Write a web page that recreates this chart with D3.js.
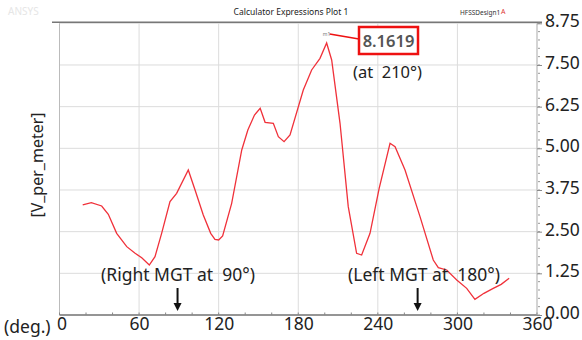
<!DOCTYPE html>
<html><head><meta charset="utf-8">
<script src="https://cdn.jsdelivr.net/npm/d3@7"></script>
<style>body{margin:0;background:#fff}svg{display:block}text{font-family:"Noto Sans","Open Sans",sans-serif}</style>
</head><body><svg id="c" width="582" height="340"></svg>
<script>
const degrees = [17.5,24,31.8,36.8,43.1,50.7,57,62,67.7,72,77,83.3,88.3,97.1,102.2,108.4,114,117.2,120,123,129.8,137.4,142,147,151.3,155,161.2,165,169.3,173.8,183.8,190.1,196.4,201.4,205.2,211.5,217.7,224,227.8,234.1,241,249.2,253,260.5,271.8,281.8,285.6,291.9,299.5,307,313.2,320,327,333,339];
const values = [3.30,3.37,3.27,3.02,2.45,2.05,1.85,1.72,1.50,1.75,2.45,3.40,3.65,4.35,3.75,3.0,2.45,2.27,2.25,2.37,3.35,4.95,5.55,6.0,6.2,5.78,5.75,5.35,5.2,5.4,6.75,7.35,7.7,8.16,7.65,5.75,3.25,1.85,1.8,2.45,3.8,5.15,5.05,4.35,2.95,1.65,1.42,1.35,1.05,0.8,0.47,0.65,0.8,0.92,1.1];
const xTicks = [0,60,120,180,240,300,360];
const yTicks = [0,1.25,2.5,3.75,5,6.25,7.5,8.75];
const peakDeg = 201.4, peakVal = 8.1619;

const svg = d3.select("#c");
const L=59.5, R=537, T=23.3, B=315;
const x = d3.scaleLinear().domain([0,360]).range([L,R]);
const y = d3.scaleLinear().domain([0,8.75]).range([B,T]);

// faded header
svg.append("text").attr("x",8).attr("y",15).attr("font-size",10).attr("fill","#e6e6e6").text("ANSYS");
svg.append("text").attr("x",291).attr("y",15).attr("text-anchor","middle").attr("font-size",8.5).attr("fill","#222").attr("font-family","Arial, Liberation Sans").text("Calculator Expressions Plot 1");
svg.append("text").attr("x",460).attr("y",15).attr("font-size",6.5).attr("fill","#333").attr("font-family","Arial, Liberation Sans").text("HFSSDesign1");
svg.append("text").attr("x",501).attr("y",14).attr("font-size",7).attr("fill","#d33").attr("font-family","Arial, Liberation Sans").text("A");

// grid
const g = svg.append("g");
g.selectAll(".hg").data(yTicks).join("line").attr("x1",L).attr("x2",R).attr("y1",d=>y(d)).attr("y2",d=>y(d)).attr("stroke","#dcdcdc").attr("stroke-width",1);
g.selectAll(".vg").data(xTicks).join("line").attr("y1",T).attr("y2",B).attr("x1",d=>x(d)).attr("x2",d=>x(d)).attr("stroke","#dcdcdc").attr("stroke-width",1);

// borders
svg.append("line").attr("x1",L).attr("x2",R).attr("y1",B).attr("y2",B).attr("stroke","#777").attr("stroke-width",1.5);
svg.append("line").attr("x1",52).attr("x2",542).attr("y1",T-1).attr("y2",T-1).attr("stroke","#777").attr("stroke-width",1.5);
svg.append("line").attr("x1",L).attr("x2",L).attr("y1",T).attr("y2",B).attr("stroke","#bbb");
svg.append("line").attr("x1",R).attr("x2",R).attr("y1",T).attr("y2",B).attr("stroke","#bbb");

// minor ticks
const yMinor = d3.range(0,8.751,0.25);
svg.selectAll(".ym").data(yMinor).join("line").attr("x1",R+1).attr("x2",R+3).attr("y1",d=>y(d)).attr("y2",d=>y(d)).attr("stroke","#999");
const xMinor = d3.range(0,361,20);
svg.selectAll(".xm").data(xMinor).join("line").attr("x1",d=>x(d)).attr("x2",d=>x(d)).attr("y1",B-2.5).attr("y2",B).attr("stroke","#888");

// axes labels via d3 axes
const yAxis = d3.axisRight(y).tickValues(yTicks).tickFormat(d3.format(".2f")).tickSize(5).tickPadding(3);
const ya = svg.append("g").attr("transform",`translate(${R},0)`).call(yAxis);
ya.select(".domain").remove();
ya.selectAll("line").attr("stroke","#888");
ya.selectAll("text").attr("font-size",17.5).attr("fill","#222").attr("dy","0.2em").attr("font-family","Noto Sans, sans-serif");

const xAxis = d3.axisBottom(x).tickValues(xTicks).tickFormat(d3.format("d")).tickSize(0).tickPadding(3);
const xa = svg.append("g").attr("transform",`translate(0,${B})`).call(xAxis);
xa.select(".domain").remove();
xa.selectAll("text").attr("font-size",17.5).attr("fill","#222").attr("font-family","Noto Sans, sans-serif");
xa.selectAll(".tick").filter(d=>d===0).select("text").attr("dx",2);

svg.append("text").attr("x",4).attr("y",333).attr("font-size",17.5).attr("fill","#222").text("(deg.)");
svg.append("text").attr("transform","translate(43,165) rotate(-90)").attr("text-anchor","middle").attr("font-size",16).attr("fill","#222").text("[V_per_meter]");

// curve
const line = d3.line().x((d,i)=>x(degrees[i])).y(d=>y(d));
svg.append("path").attr("d",line(values)).attr("fill","none").attr("stroke","#f0313a").attr("stroke-width",1.3);

// peak annotation
const px = x(peakDeg), py = y(peakVal);
svg.append("text").attr("x",px).attr("y",py-7).attr("text-anchor","middle").attr("font-size",5).attr("fill","#777").text("m1");
svg.append("line").attr("x1",px+3).attr("y1",py-9).attr("x2",359).attr("y2",39).attr("stroke","#e11").attr("stroke-width",1.5);
svg.append("rect").attr("x",359).attr("y",27).attr("width",59).attr("height",27).attr("fill","#fff").attr("stroke","#e11").attr("stroke-width",2.5);
svg.append("text").attr("x",388.5).attr("y",47).attr("text-anchor","middle").attr("font-size",16.5).attr("font-weight",600).attr("fill","#555").text(d3.format(".4f")(peakVal));
svg.append("text").attr("x",353).attr("y",78).attr("font-size",16.5).attr("fill","#222").attr("xml:space","preserve").text("(at  210°)");

// MGT annotations
svg.append("text").attr("x",101).attr("y",281).attr("font-size",17.5).attr("fill","#222").attr("xml:space","preserve").text("(Right MGT at  90°)");
svg.append("text").attr("x",348).attr("y",281).attr("font-size",17.5).attr("fill","#222").attr("xml:space","preserve").text("(Left MGT at  180°)");
function arrow(cx){
  svg.append("line").attr("x1",cx).attr("x2",cx).attr("y1",288).attr("y2",306).attr("stroke","#111").attr("stroke-width",2);
  svg.append("path").attr("d",`M${cx-4},303 L${cx+4},303 L${cx},311 Z`).attr("fill","#111");
}
arrow(x(89)); arrow(x(270));
</script></body></html>
